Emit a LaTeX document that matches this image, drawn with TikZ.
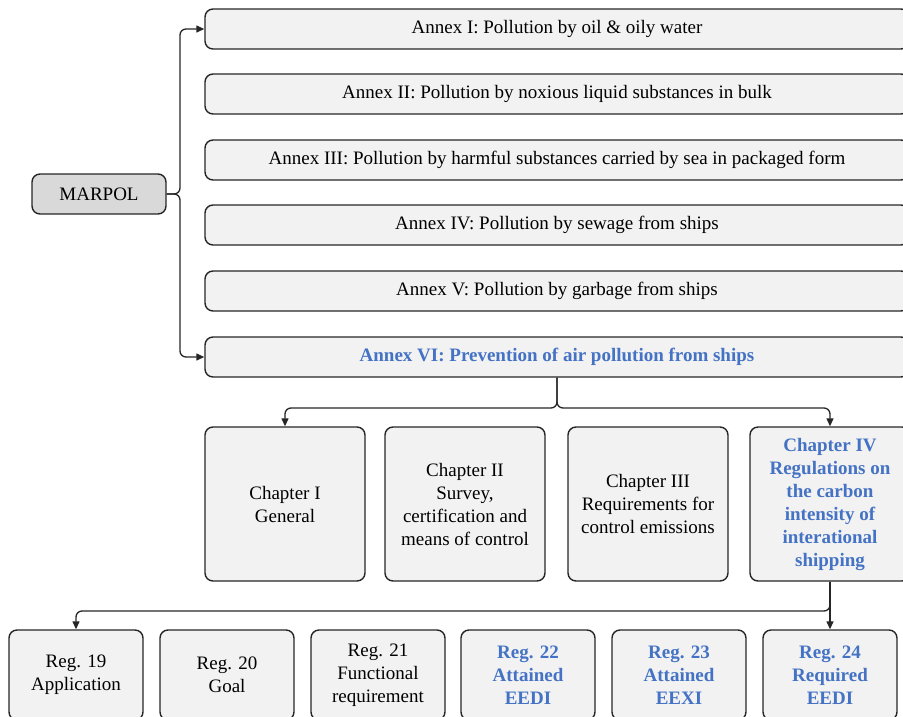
\documentclass[tikz,border=0pt]{standalone}
\usepackage{fontspec}
\setmainfont{Liberation Serif}
\usetikzlibrary{arrows.meta}
\definecolor{boxfill}{HTML}{F2F2F2}
\definecolor{rootfill}{HTML}{D9D9D9}
\definecolor{hl}{HTML}{4472C4}
\definecolor{edge}{HTML}{262626}
\begin{document}
\begin{tikzpicture}[x=1pt,y=-1pt,
  box/.style={draw=edge, line width=1.4pt, rounded corners=8pt, fill=boxfill, align=center, inner sep=0pt, font=\rmfamily\fontsize{19}{23}\selectfont},
  annex/.style={box, minimum width=704pt, minimum height=40pt},
  chap/.style={box, minimum width=160pt, minimum height=154pt},
  reg/.style={box, minimum width=134pt, minimum height=90pt},
  hlt/.style={text=hl, font=\rmfamily\bfseries\fontsize{19}{23}\selectfont},
  conn/.style={draw=edge, line width=1.3pt, rounded corners=6pt, -{Triangle[length=8pt,width=7pt]}}]
\useasboundingbox (0,0) rectangle (903,716);
\clip (0,0) rectangle (903,716);
\node[box, fill=rootfill, minimum width=134pt, minimum height=40pt] (m) at (99,194) {MARPOL};
\node[annex] (a1) at (557,29) {Annex I: Pollution by oil \& oily water};
\node[annex] (a2) at (557,94) {Annex II: Pollution by noxious liquid substances in bulk};
\node[annex] (a3) at (557,160) {Annex III: Pollution by harmful substances carried by sea in packaged form};
\node[annex] (a4) at (557,225) {Annex IV: Pollution by sewage from ships};
\node[annex] (a5) at (557,291) {Annex V: Pollution by garbage from ships};
\node[annex, hlt] (a6) at (557,357) {Annex VI: Prevention of air pollution from ships};
\node[chap] (c1) at (285,504) {Chapter I\\General};
\node[chap] (c2) at (465,504) {Chapter II\\Survey,\\certification and\\means of control};
\node[chap] (c3) at (648,504) {Chapter III\\Requirements for\\control emissions};
\node[chap, hlt] (c4) at (830,504) {Chapter IV\\Regulations on\\the carbon\\intensity of\\interational\\shipping};
\node[reg] (r1) at (76,675) {Reg. 19\\Application};
\node[reg] (r2) at (227,675) {Reg. 20\\Goal};
\node[reg] (r3) at (378,675) {Reg. 21\\Functional\\requirement};
\node[reg, hlt] (r4) at (528,675) {Reg. 22\\Attained\\EEDI};
\node[reg, hlt] (r5) at (679,675) {Reg. 23\\Attained\\EEXI};
\node[reg, hlt] (r6) at (830,675) {Reg. 24\\Required\\EEDI};
\coordinate (mj) at (180,194);
\draw[conn] (m.east) -- (mj) |- (a1.west);
\draw[conn] (m.east) -- (mj) |- (a6.west);
\coordinate (aj) at (557,408);
\draw[conn] (a6.south) -- (aj) -| (c1.north);
\draw[conn] (a6.south) -- (aj) -| (c4.north);
\coordinate (cj) at (830,611);
\draw[conn] (c4.south) -- (cj) -| (r1.north);
\draw[conn] (c4.south) -- (r6.north);
\end{tikzpicture}
\end{document}
